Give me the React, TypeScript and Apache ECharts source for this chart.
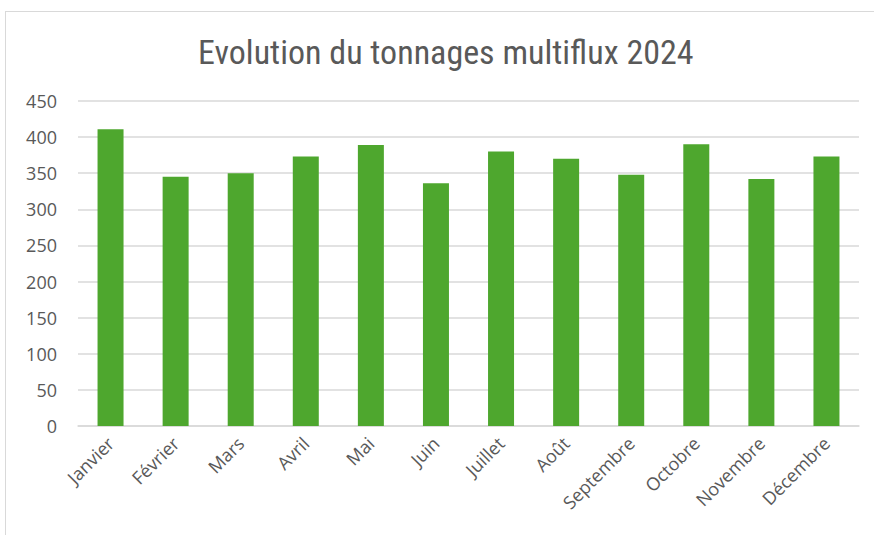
import React, { useEffect, useRef } from "react";
import * as echarts from "echarts";

const title = "Evolution du tonnages multiflux 2024";
const months = ["Janvier", "Février", "Mars", "Avril", "Mai", "Juin", "Juillet", "Août", "Septembre", "Octobre", "Novembre", "Décembre"];
const tonnages = [411, 345, 350, 373, 389, 336, 380, 370, 348, 390, 342, 373];
const yMin = 0;
const yMax = 450;
const yStep = 50;

export default function App() {
  const ref = useRef<HTMLDivElement>(null);
  useEffect(() => {
    if (!ref.current) return;
    const chart = echarts.init(ref.current, undefined, { renderer: "svg" });
    chart.setOption({
      animation: false,
      backgroundColor: "#ffffff",
      title: {
        text: title,
        left: 193,
        top: 30,
        textStyle: {
          fontFamily: "'Liberation Sans Narrow', 'Roboto Condensed', Roboto, sans-serif",
          fontSize: 34,
          fontWeight: "normal",
          color: "#595959",
        },
      },
      grid: { left: 78, right: 15, top: 101, bottom: 109, containLabel: false },
      xAxis: {
        type: "category",
        data: months,
        axisTick: { show: false },
        axisLine: { lineStyle: { color: "#d9d9d9", width: 1.5 } },
        axisLabel: {
          rotate: 45,
          interval: 0,
          margin: 14,
          color: "#595959",
          fontSize: 18,
          fontFamily: "'Open Sans', 'Noto Sans', sans-serif",
        },
      },
      yAxis: {
        type: "value",
        min: yMin,
        max: yMax,
        interval: yStep,
        axisLine: { show: false },
        axisTick: { show: false },
        splitLine: { lineStyle: { color: "#d9d9d9", width: 1.5 } },
        axisLabel: {
          margin: 21,
          color: "#595959",
          fontSize: 18,
          fontFamily: "'Open Sans', 'Noto Sans', sans-serif",
        },
      },
      series: [
        {
          type: "bar",
          data: tonnages,
          barWidth: 26,
          itemStyle: { color: "#4ea72e" },
        },
      ],
    });
    return () => chart.dispose();
  }, []);
  return (
    <div style={{ position: "fixed", left: 0, top: 0, width: 874, height: 535, background: "#fff" }}>
      <div ref={ref} style={{ position: "absolute", left: 0, top: 0, width: 874, height: 535 }} />
      <div style={{ position: "absolute", left: 5, top: 11, width: 880, height: 540, border: "1px solid #d9d9d9", pointerEvents: "none" }} />
    </div>
  );
}
